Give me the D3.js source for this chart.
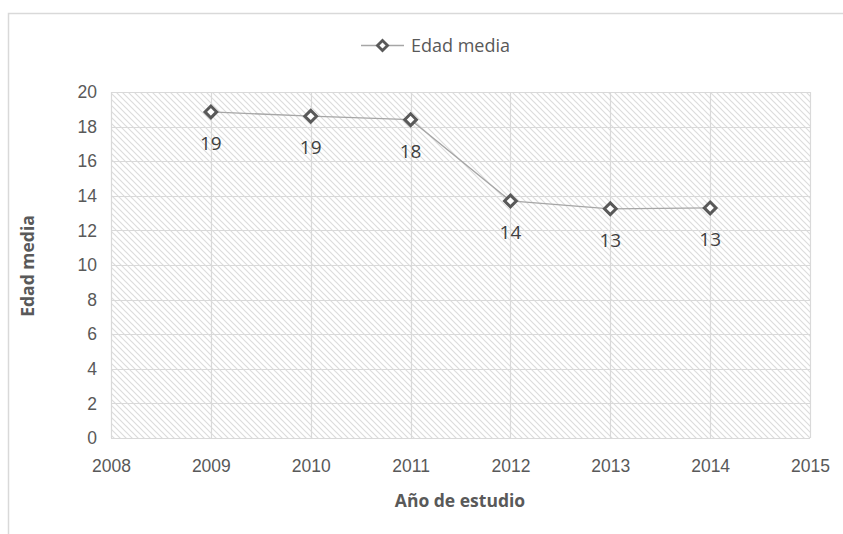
<!DOCTYPE html>
<html>
<head>
<meta charset="utf-8">
<script src="https://cdn.jsdelivr.net/npm/d3@7"></script>
<style>
  html, body { margin: 0; padding: 0; background: #fff; }
  svg { display: block; font-family: "Open Sans", "Noto Sans", sans-serif; }
</style>
</head>
<body>
<svg id="chart" width="843" height="534"></svg>
<script>
// Mean age per study year
const years = [2009, 2010, 2011, 2012, 2013, 2014];
const meanAge = [18.85, 18.6, 18.4, 13.7, 13.25, 13.3];
const valueLabels = ["19", "19", "18", "14", "13", "13"];
const xTicks = [2008, 2009, 2010, 2011, 2012, 2013, 2014, 2015];
const yTicks = [0, 2, 4, 6, 8, 10, 12, 14, 16, 18, 20];
const seriesName = "Edad media";
const xTitle = "Año de estudio";
const yTitle = "Edad media";

const svg = d3.select("#chart");
const W = 843, H = 534;
const plot = { left: 111, right: 810, top: 92, bottom: 438 };
const textColor = "#595959";
const gridColor = "#d9d9d9";

// outer frame (top and left edges visible)
svg.append("path")
  .attr("d", `M8.5,${H} V13.5 H${W}`)
  .attr("fill", "none").attr("stroke", "#d9d9d9").attr("stroke-width", 1.5);

const x = d3.scaleLinear().domain([2008, 2015]).range([plot.left, plot.right]);
const y = d3.scaleLinear().domain([0, 20]).range([plot.bottom, plot.top]);

// diagonal hatch fill for the plot area
const defs = svg.append("defs");
const P = 6;
const pat = defs.append("pattern")
  .attr("id", "hatch").attr("patternUnits", "userSpaceOnUse")
  .attr("width", P).attr("height", P);
pat.append("path")
  .attr("d", `M-1,-1 L${P + 1},${P + 1} M${-P - 1},-1 L1,${P + 1} M${P - 1},-1 L${2 * P + 1},${P + 1}`)
  .attr("stroke", "#dcdcdc").attr("stroke-width", 1.2);

svg.append("rect")
  .attr("x", plot.left).attr("y", plot.top)
  .attr("width", plot.right - plot.left).attr("height", plot.bottom - plot.top)
  .attr("fill", "url(#hatch)");

// gridlines
const grid = svg.append("g").attr("stroke", gridColor).attr("stroke-width", 1.2);
grid.selectAll("line.h").data(yTicks).join("line")
  .attr("x1", plot.left).attr("x2", plot.right)
  .attr("y1", d => Math.round(y(d)) + 0.5).attr("y2", d => Math.round(y(d)) + 0.5);
grid.selectAll("line.v").data(xTicks).join("line")
  .attr("y1", plot.top).attr("y2", plot.bottom)
  .attr("x1", d => Math.round(x(d)) + 0.5).attr("x2", d => Math.round(x(d)) + 0.5);

// axes (labels only)
const yAxis = svg.append("g")
  .attr("transform", `translate(${plot.left - 14},0)`)
  .call(d3.axisLeft(y).tickValues(yTicks).tickSize(0).tickPadding(0));
yAxis.select(".domain").remove();
yAxis.selectAll("text").attr("fill", textColor).style("font-size", "17.5px");

const xAxis = svg.append("g")
  .attr("transform", `translate(0,${plot.bottom + 16})`)
  .call(d3.axisBottom(x).tickValues(xTicks).tickFormat(d3.format("d")).tickSize(0).tickPadding(6));
xAxis.select(".domain").remove();
xAxis.selectAll("text").attr("fill", textColor).style("font-size", "17.5px");

// axis titles
svg.append("text")
  .attr("x", 460).attr("y", 507)
  .attr("text-anchor", "middle").attr("fill", textColor)
  .style("font-size", "17.5px").style("font-weight", "bold")
  .text(xTitle);
svg.append("text")
  .attr("transform", `translate(34,${266}) rotate(-90)`)
  .attr("text-anchor", "middle").attr("fill", textColor)
  .style("font-size", "17.5px").style("font-weight", "bold")
  .text(yTitle);

// series line
const data = years.map((yr, i) => ({ yr, v: meanAge[i], label: valueLabels[i] }));
svg.append("path")
  .datum(data)
  .attr("fill", "none").attr("stroke", "#a6a6a6").attr("stroke-width", 1.3)
  .attr("d", d3.line().x(d => x(d.yr)).y(d => y(d.v)));

// diamond markers
const diamond = d3.symbol().type(d3.symbolDiamond2).size(88);
svg.selectAll("path.mk").data(data).join("path")
  .attr("class", "mk")
  .attr("transform", d => `translate(${x(d.yr)},${y(d.v)})`)
  .attr("d", diamond)
  .attr("fill", "#fff").attr("stroke", textColor).attr("stroke-width", 3);

// value labels
svg.selectAll("text.lbl").data(data).join("text")
  .attr("class", "lbl")
  .attr("x", d => x(d.yr)).attr("y", d => y(d.v) + 38)
  .attr("text-anchor", "middle").attr("fill", "#404040")
  .style("font-size", "19px")
  .text(d => d.label);

// legend
const lg = svg.append("g").attr("transform", "translate(0,45)");
lg.append("line").attr("x1", 361).attr("x2", 404).attr("y1", 0.5).attr("y2", 0.5)
  .attr("stroke", "#a6a6a6").attr("stroke-width", 1.3);
lg.append("path").attr("transform", "translate(382.5,0.5)")
  .attr("d", d3.symbol().type(d3.symbolDiamond2).size(65))
  .attr("fill", "#fff").attr("stroke", textColor).attr("stroke-width", 2.8);
lg.append("text").attr("x", 411).attr("y", 7)
  .attr("fill", textColor).style("font-size", "18px")
  .text(seriesName);
</script>
</body>
</html>
